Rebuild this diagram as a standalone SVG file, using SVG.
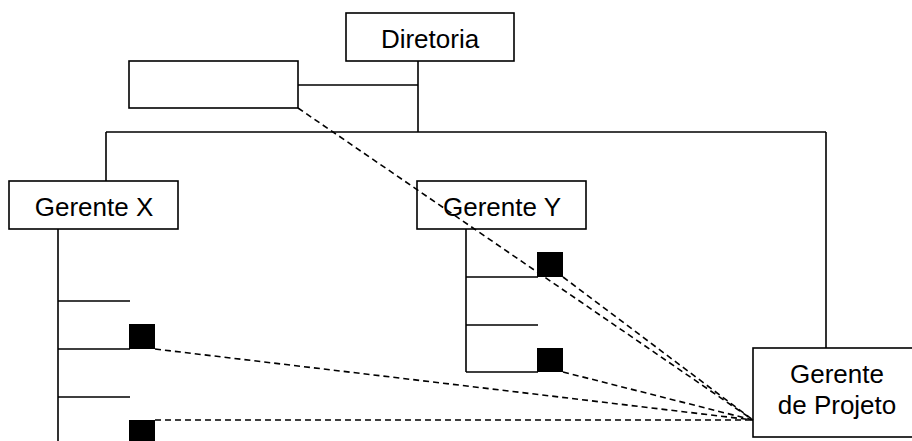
<svg xmlns="http://www.w3.org/2000/svg" width="912" height="441" viewBox="0 0 912 441">
  <style>
    .box { fill: #fff; stroke: #000; stroke-width: 1.6; }
    .line { fill: none; stroke: #000; stroke-width: 1.6; }
    .dash { fill: none; stroke: #000; stroke-width: 1.6; stroke-dasharray: 6 4; }
    .sq { fill: #000; }
    .lbl { font-family: "Liberation Sans", Arial, sans-serif; font-size: 26px; fill: #000; text-anchor: middle; }
  </style>
  <rect width="912" height="441" fill="#fff"/>

  <!-- solid hierarchy connectors -->
  <g id="connectors">
    <path class="line" d="M298 85 H418 M418 61 V132 M106 132 H826 M106 132 V181 M826 132 V348"/>
    <!-- Gerente X staff branches -->
    <path class="line" d="M58 229 V441 M58 301 H130 M58 349 H130 M58 397 H130"/>
    <!-- Gerente Y staff branches -->
    <path class="line" d="M466 229 V372 M466 277 H538 M466 325 H538 M466 372 H538"/>
  </g>

  <g id="diretoria">
    <rect class="box" x="346" y="13" width="168" height="48"/>
    <text class="lbl" x="430" y="48">Diretoria</text>
  </g>

  <g id="staff-box">
    <rect class="box" x="129" y="61" width="169" height="47"/>
  </g>

  <g id="gerente-x">
    <rect class="box" x="9" y="181" width="169" height="48"/>
    <text class="lbl" x="94" y="216">Gerente X</text>
  </g>

  <g id="gerente-y">
    <rect class="box" x="417" y="181" width="169" height="48"/>
    <text class="lbl" x="502" y="216">Gerente Y</text>
  </g>

  <g id="gerente-projeto">
    <rect class="box" x="753" y="348" width="170" height="89"/>
    <text class="lbl" x="837" y="383">Gerente</text>
    <text class="lbl" x="837" y="414">de Projeto</text>
  </g>

  <!-- project members (black squares) -->
  <g id="members">
    <rect class="sq" x="129" y="324" width="26" height="25"/>
    <rect class="sq" x="129" y="420" width="26" height="25"/>
    <rect class="sq" x="537" y="252" width="26" height="25"/>
    <rect class="sq" x="537" y="348" width="26" height="24"/>
  </g>

  <!-- dashed project links -->
  <g id="project-links">
    <path class="dash" d="M298 108 L753 420"/>
    <path class="dash" d="M563 277 L753 420"/>
    <path class="dash" d="M563 372 L753 420"/>
    <path class="dash" d="M155 349 L753 420"/>
    <path class="dash" d="M155 420 L753 420"/>
  </g>
</svg>
